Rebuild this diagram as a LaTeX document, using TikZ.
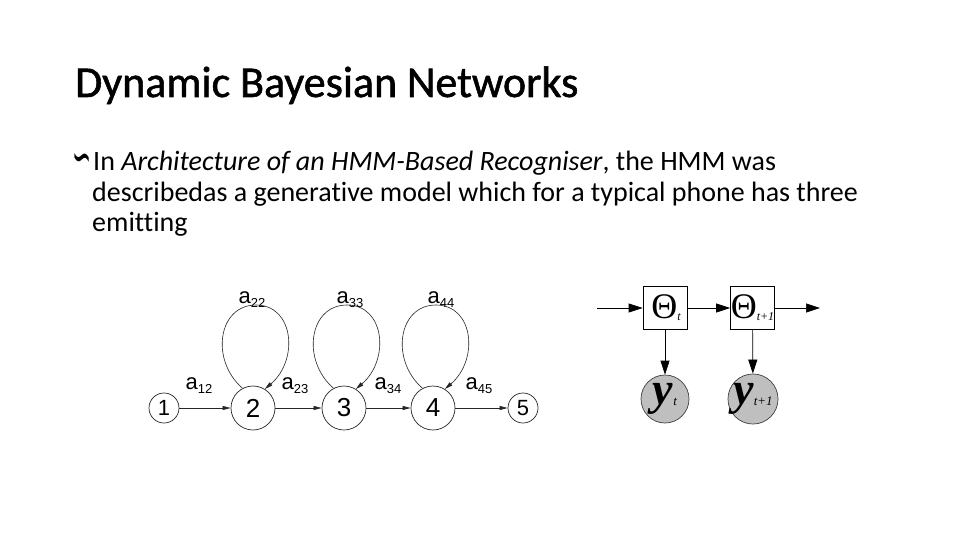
\documentclass[tikz,border=0pt]{standalone}
\usepackage{fontspec}
\usepackage{graphicx}
\setmainfont[Ligatures=NoCommon,RawFeature=-liga]{Carlito}
\newfontfamily\titlefont[Ligatures=NoCommon,RawFeature=-liga,FakeBold=1.2]{Carlito}
\newfontfamily\hmmfont{Liberation Sans}
\newfontfamily\dbnfont{Liberation Serif}
\newfontfamily\symfont{DejaVu Sans}
\usetikzlibrary{arrows.meta}
\newcommand{\hsub}[1]{\raisebox{-4pt}{\fontsize{13}{13}\selectfont #1}}
\begin{document}
\begin{tikzpicture}[x=1pt,y=-1pt,
  hmmstate/.style={circle,draw=black!85,line width=0.7pt,inner sep=0pt,minimum size=44pt,font=\hmmfont\fontsize{26}{26}\selectfont},
  hmmend/.style={circle,draw=black!85,line width=0.7pt,inner sep=0pt,minimum size=30pt,font=\hmmfont\fontsize{22}{22}\selectfont},
  hmmarr/.style={draw=black!85,line width=0.6pt,-{Triangle[length=8pt,width=4pt]}},
  hmmlab/.style={font=\hmmfont\fontsize{22}{22}\selectfont,inner sep=0pt},
  dbnbox/.style={draw=black,line width=0.7pt,minimum width=44pt,minimum height=43pt,inner sep=0pt,font=\dbnfont},
  dbnobs/.style={circle,draw=black!75,fill=black!25,line width=0.7pt,minimum size=48pt,inner sep=0pt,font=\dbnfont},
  dbnarr/.style={draw=black,line width=0.7pt,-{Triangle[length=14pt,width=9pt]}},
  bodytext/.style={anchor=base west,inner sep=0pt,font=\fontsize{28}{30}\selectfont}
]
\useasboundingbox[fill=white] (0,0) rectangle (960,540);
% title
\node[anchor=base west,inner sep=0pt,font=\titlefont\fontsize{44}{44}\selectfont] (title) at (75,97) {Dynamic Bayesian Networks};
% body
\node[anchor=east,inner sep=0pt] (bullet) at (92,164) {\symfont\fontsize{24}{24}\selectfont\scalebox{0.95}[2.2]{∽}};
\node[bodytext] (l1) at (93,171) {In \textit{Architecture of an HMM-Based Recogniser}, the HMM was};
\node[bodytext] (l2) at (92,201) {describedas a generative model which for a typical phone has three};
\node[bodytext] (l3) at (92,231) {emitting};
% HMM
\node[hmmend] (n1) at (164,408) {1};
\node[hmmstate] (n2) at (253,408) {2};
\node[hmmstate] (n3) at (344,408) {3};
\node[hmmstate] (n4) at (433,408) {4};
\node[hmmend] (n5) at (523,408) {5};
\draw[hmmarr] (n1) -- (n2);
\draw[hmmarr] (n2) -- (n3);
\draw[hmmarr] (n3) -- (n4);
\draw[hmmarr] (n4) -- (n5);
\draw[hmmarr] (n2.118) .. controls (210,360) and (218,305) .. (256,305) .. controls (294,305) and (299,360) .. (n2.58);
\draw[hmmarr] (n3.118) .. controls (301,360) and (309,305) .. (347,305) .. controls (385,305) and (390,360) .. (n3.58);
\draw[hmmarr] (n4.118) .. controls (390,360) and (398,305) .. (436,305) .. controls (474,305) and (479,360) .. (n4.58);
\node[hmmlab] (a12) at (199,386) {a\hsub{12}};
\node[hmmlab] (a22) at (252,300) {a\hsub{22}};
\node[hmmlab] (a23) at (295,386) {a\hsub{23}};
\node[hmmlab] (a33) at (350,300) {a\hsub{33}};
\node[hmmlab] (a34) at (388,386) {a\hsub{34}};
\node[hmmlab] (a44) at (441,300) {a\hsub{44}};
\node[hmmlab] (a45) at (479,386) {a\hsub{45}};
% DBN
\node[dbnbox] (th1) at (665,308) {\fontsize{36}{36}\selectfont\hspace{2pt}Θ\raisebox{-2pt}{\fontsize{12}{12}\selectfont\itshape t}};
\node[dbnbox] (th2) at (752.5,308) {\fontsize{36}{36}\selectfont Θ\raisebox{-2pt}{\fontsize{12}{12}\selectfont\itshape t+1}};
\node[dbnobs] (y1) at (665,399) {\fontsize{46}{46}\selectfont\bfseries\itshape y\raisebox{-1pt}{\fontsize{13}{13}\selectfont\mdseries t}};
\node[dbnobs] (y2) at (753,399) {\fontsize{46}{46}\selectfont\bfseries\itshape y\raisebox{-1pt}{\fontsize{13}{13}\selectfont\mdseries t+1}};
\coordinate (din) at (597,308);
\coordinate (dout) at (820,308);
\draw[dbnarr] (din) -- (th1);
\draw[dbnarr] (th1) -- (th2);
\draw[dbnarr] (th2) -- (dout);
\draw[dbnarr] (th1) -- (y1);
\draw[dbnarr] (th2) -- (y2);
\end{tikzpicture}
\end{document}
